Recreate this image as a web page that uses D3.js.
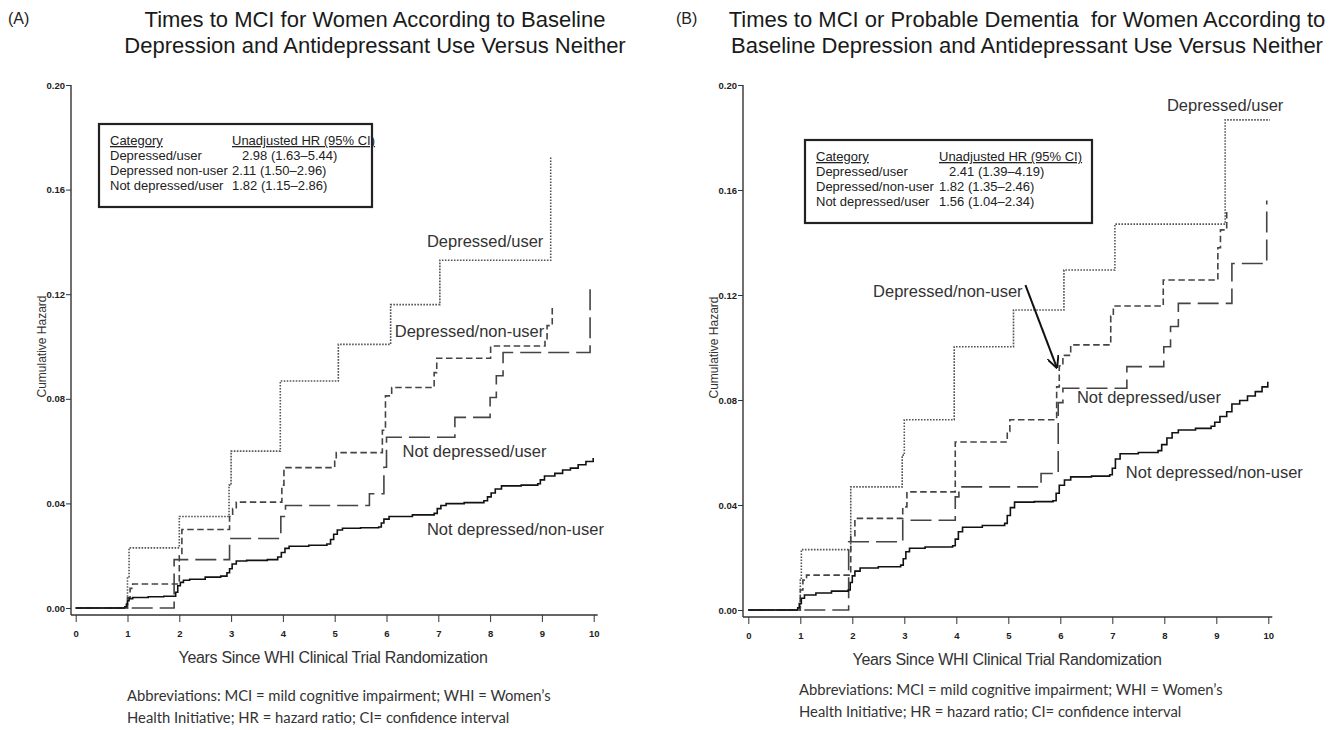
<!DOCTYPE html>
<html>
<head>
<meta charset="utf-8">
<script src="https://cdn.jsdelivr.net/npm/d3@7"></script>
<style>
  body { margin: 0; background: #fff; }
  svg text { font-family: 'Liberation Sans', Arial, sans-serif; }
</style>
</head>
<body>
<div id="chart"></div>
<script>
// ---- data ----
const years = [0, 1, 2, 3, 4, 5, 6, 7, 8, 9, 10];
const hazardTicks = [0, 0.04, 0.08, 0.12, 0.16, 0.20];

const titleA = ['Times to MCI for Women According to Baseline',
                'Depression and Antidepressant Use Versus Neither'];
const titleB = ['Times to MCI or Probable Dementia  for Women According to',
                'Baseline Depression and Antidepressant Use Versus Neither'];

const legendCatsA = ['Depressed/user', 'Depressed non-user', 'Not depressed/user'];
const legendHrA = ['2.98 (1.63\u20135.44)', '2.11 (1.50\u20132.96)', '1.82 (1.15\u20132.86)'];
const legendCatsB = ['Depressed/user', 'Depressed/non-user', 'Not depressed/user'];
const legendHrB = ['2.41 (1.39\u20134.19)', '1.82 (1.35\u20132.46)', '1.56 (1.04\u20132.34)'];

const abbrevLines = ['Abbreviations: MCI = mild cognitive impairment; WHI = Women\u2019s',
                     'Health Initiative; HR = hazard ratio; CI= confidence interval'];

// panel A step curves [year, cumulative hazard]
const aDepUser = [[0,0],[1.0,0.012],[1.03,0.023],[2.0,0.035],[2.96,0.047],[3.0,0.060],
  [3.95,0.0868],[5.07,0.1008],[6.08,0.116],[7.03,0.133],[9.17,0.1726]];
const aDepNonUser = [[0,0],[1.0,0.004],[1.05,0.0075],[1.1,0.0092],[2.0,0.020],[2.05,0.030],
  [2.97,0.035],[3.03,0.038],[3.1,0.0405],[3.98,0.047],[4.02,0.0537],[5.0,0.057],[5.03,0.0594],
  [5.92,0.068],[5.98,0.0811],[6.1,0.0843],[6.92,0.09],[6.97,0.0955],[8.01,0.1002],[9.06,0.1023],
  [9.1,0.108],[9.2,0.1148]];
const aNotDepUser = [[0,0],[1.9,0.0185],[2.97,0.0266],[3.96,0.035],[4.05,0.0392],[5.67,0.0437],
  [5.95,0.0538],[6.0,0.0653],[7.32,0.0729],[8.0,0.0805],[8.12,0.0888],[8.25,0.0977],[9.93,0.122]];
const aNotDepNonUser = [[0,0],[0.95,0.0005],[0.98,0.0015],[1.0,0.0028],[1.03,0.0036],[1.1,0.004],
  [1.4,0.0043],[1.7,0.0045],[1.93,0.006],[1.97,0.0085],[2.02,0.0098],[2.08,0.0106],[2.2,0.011],
  [2.5,0.0118],[2.8,0.0122],[2.92,0.0135],[2.97,0.015],[3.02,0.0168],[3.1,0.018],[3.3,0.0182],
  [3.7,0.0185],[3.9,0.0195],[3.97,0.0212],[4.04,0.0228],[4.12,0.0236],[4.5,0.024],[4.85,0.0245],
  [4.92,0.0262],[4.98,0.0282],[5.05,0.0298],[5.15,0.0305],[5.5,0.0307],[5.85,0.031],[5.9,0.0325],
  [5.95,0.034],[6.05,0.035],[6.5,0.0356],[6.92,0.0362],[6.98,0.038],[7.05,0.0392],[7.15,0.0399],
  [7.5,0.0403],[7.88,0.041],[7.95,0.0425],[8.02,0.044],[8.1,0.0455],[8.22,0.0467],[8.6,0.047],
  [8.92,0.0475],[8.97,0.049],[9.05,0.0505],[9.25,0.0515],[9.4,0.0528],[9.55,0.0535],[9.7,0.0548],
  [9.85,0.056],[9.99,0.0574]];

// panel B step curves
const bDepUser = [[0,0],[1.0,0.0114],[1.02,0.023],[1.97,0.0469],[2.96,0.059],[3.0,0.0725],
  [3.96,0.1003],[5.1,0.1143],[6.07,0.1295],[7.05,0.147],[9.17,0.1867],[10.03,0.1867]];
const bDepNonUser = [[0,0],[1.0,0.0076],[1.05,0.0114],[1.12,0.0133],[1.97,0.0279],[2.05,0.0349],
  [2.97,0.0393],[3.05,0.045],[3.98,0.064],[4.98,0.068],[5.03,0.0725],[5.93,0.085],[5.98,0.093],
  [6.05,0.097],[6.2,0.101],[6.97,0.112],[7.02,0.1158],[7.98,0.1257],[9.03,0.138],[9.08,0.1448],
  [9.2,0.1518]];
const bNotDepUser = [[0,0],[1.93,0.026],[2.97,0.0342],[3.98,0.0431],[4.05,0.0469],[5.63,0.052],
  [5.96,0.079],[6.05,0.0845],[7.28,0.0927],[7.99,0.1003],[8.12,0.108],[8.27,0.1168],[9.3,0.132],
  [9.97,0.156]];
const bNotDepNonUser = [[0,0],[0.95,0.0008],[0.98,0.0025],[1.02,0.0045],[1.08,0.0057],[1.3,0.0065],
  [1.6,0.0072],[1.92,0.0076],[1.96,0.0105],[2.0,0.013],[2.05,0.0148],[2.15,0.016],[2.5,0.0165],
  [2.93,0.0171],[2.98,0.0195],[3.03,0.0222],[3.1,0.0235],[3.4,0.024],[3.93,0.0245],[3.98,0.027],
  [4.04,0.0298],[4.12,0.0315],[4.5,0.0322],[4.93,0.033],[4.98,0.036],[5.04,0.039],[5.12,0.0411],
  [5.5,0.0413],[5.86,0.0416],[5.92,0.0445],[5.98,0.0475],[6.08,0.0495],[6.2,0.0507],[6.6,0.051],
  [6.95,0.0515],[7.0,0.054],[7.06,0.0575],[7.15,0.0595],[7.5,0.06],[7.88,0.0607],[7.95,0.063],
  [8.05,0.0655],[8.15,0.0675],[8.27,0.0686],[8.6,0.0692],[8.9,0.07],[8.97,0.0715],[9.07,0.0737],
  [9.2,0.0755],[9.3,0.0785],[9.45,0.0798],[9.6,0.0815],[9.75,0.0832],[9.88,0.085],[9.99,0.087]];

// curve labels, anchored in data units [year, hazard]
const labelsA = [['Depressed/user', 6.78, 0.1382], ['Depressed/non-user', 6.16, 0.1037],
                 ['Not depressed/user', 6.31, 0.0576], ['Not depressed/non-user', 6.78, 0.0279]];
const labelsB = [['Depressed/user', 8.05, 0.1902], ['Depressed/non-user', 2.40, 0.1194],
                 ['Not depressed/user', 6.32, 0.0788], ['Not depressed/non-user', 7.26, 0.0502]];
const arrowB = [[5.33, 0.1238], [5.93, 0.0925]];

// ---- drawing ----
const W = 1335, H = 730;
const svg = d3.select('#chart').append('svg')
  .attr('width', W).attr('height', H)
  .style('background', '#fff');

svg.append('defs').append('marker')
  .attr('id', 'arrowhead')
  .attr('viewBox', '0 0 10 10')
  .attr('refX', 9).attr('refY', 5)
  .attr('markerWidth', 6).attr('markerHeight', 6)
  .attr('orient', 'auto')
  .append('path')
  .attr('d', 'M0,0 L10,5 L0,10')
  .attr('fill', 'none').attr('stroke', '#111').attr('stroke-width', 1.6);

const styles = {
  dotted: { dash: '1.6,1.4', color: '#555' },
  short:  { dash: '6.5,3.5', color: '#444' },
  long:   { dash: '21,7', color: '#444' },
  solid:  { dash: null, color: '#111' }
};

function drawPanel(p) {
  const x = d3.scaleLinear().domain([0, 10]).range(p.xRange);
  const y = d3.scaleLinear().domain([0, 0.20]).range(p.yRange);
  const g = svg.append('g');

  // panel tag and title
  g.append('text').attr('x', p.tagX).attr('y', 24)
    .style('font-size', '16px').attr('fill', '#222').text(p.tag);
  g.selectAll('.title').data(p.title).enter().append('text')
    .attr('x', p.titleX).attr('y', (d, i) => 27 + i * 26)
    .attr('text-anchor', 'middle')
    .style('font-size', '22px')
    .style('white-space', 'pre')
    .attr('fill', '#1a1a1a')
    .text(d => d);

  // axes
  const yAxis = d3.axisLeft(y).tickValues(hazardTicks).tickFormat(d3.format('.2f'))
    .tickSize(5).tickSizeOuter(0);
  const yg = g.append('g').attr('transform', `translate(${p.yAxisX},0)`).call(yAxis);
  yg.select('.domain').remove();
  yg.selectAll('.tick line').attr('x2', -5).attr('stroke', '#333');
  yg.selectAll('.tick text').attr('x', -6);

  const xAxis = d3.axisBottom(x).tickValues(years).tickFormat(d3.format('d'))
    .tickSize(7).tickSizeOuter(0);
  const xg = g.append('g').attr('transform', `translate(0,${p.xAxisY})`).call(xAxis);
  xg.select('.domain').remove();
  xg.selectAll('.tick line').attr('stroke', '#333');

  [yg, xg].forEach(a => a.selectAll('.tick text')
    .style('font-family', "'Liberation Sans', Arial, sans-serif")
    .style('font-size', '9.5px').style('font-weight', 'bold').attr('fill', '#222'));
  xg.selectAll('.tick text').attr('dy', '1.3em');

  g.append('line').attr('x1', p.yAxisX).attr('x2', p.yAxisX)
    .attr('y1', y(0.20)).attr('y2', p.xAxisY).attr('stroke', '#333').attr('stroke-width', 1.4);
  g.append('line').attr('x1', p.yAxisX).attr('x2', x(10) + 4)
    .attr('y1', p.xAxisY).attr('y2', p.xAxisY).attr('stroke', '#333').attr('stroke-width', 1.4);

  g.append('text')
    .attr('transform', `translate(${p.yAxisX - 25},${y(0.10)}) rotate(-90)`)
    .attr('text-anchor', 'middle').style('font-size', '12px').attr('fill', '#333')
    .text('Cumulative Hazard');
  g.append('text').attr('x', p.xTitleX).attr('y', p.xAxisY + 48)
    .attr('text-anchor', 'middle').style('font-size', '16px').style('letter-spacing', '-0.3px')
    .attr('fill', '#333').text('Years Since WHI Clinical Trial Randomization');

  g.selectAll('.abbr').data(abbrevLines).enter().append('text')
    .attr('x', p.abbrX).attr('y', (d, i) => p.abbrY + i * 22)
    .style('font-family', "Lato, 'Open Sans', sans-serif").style('font-size', '14.8px')
    .attr('fill', '#333').text(d => d);

  // curves
  const line = d3.line().x(d => x(d[0])).y(d => y(d[1])).curve(d3.curveStepAfter);
  p.series.forEach(s => {
    const st = styles[s.style];
    g.append('path').datum(s.data)
      .attr('d', line)
      .attr('fill', 'none')
      .attr('stroke', st.color)
      .attr('stroke-width', 1.6)
      .attr('stroke-dasharray', st.dash);
  });

  // curve labels
  g.selectAll('.clabel').data(p.labels).enter().append('text')
    .attr('x', d => x(d[1])).attr('y', d => y(d[2]))
    .style('font-size', '16.5px').attr('fill', '#333')
    .text(d => d[0]);

  if (p.arrow) {
    g.append('line')
      .attr('x1', x(p.arrow[0][0])).attr('y1', y(p.arrow[0][1]))
      .attr('x2', x(p.arrow[1][0])).attr('y2', y(p.arrow[1][1]))
      .attr('stroke', '#111').attr('stroke-width', 2)
      .attr('marker-end', 'url(#arrowhead)');
  }

  // legend box
  const lg = g.append('g');
  lg.append('rect').attr('x', p.legend.x).attr('y', p.legend.y)
    .attr('width', p.legend.w).attr('height', p.legend.h)
    .attr('fill', '#fff').attr('stroke', '#222').attr('stroke-width', 2.2);
  const rowY = i => p.legend.y + 21 + i * 15;
  lg.append('text').attr('x', p.legend.x + 11).attr('y', rowY(0))
    .style('font-size', '13px').style('text-decoration', 'underline').attr('fill', '#222')
    .text('Category');
  lg.append('text').attr('x', p.legend.col2).attr('y', rowY(0))
    .style('font-size', '13px').style('text-decoration', 'underline').attr('fill', '#222')
    .text('Unadjusted HR (95% CI)');
  p.legend.cats.forEach((c, i) => {
    lg.append('text').attr('x', p.legend.x + 11).attr('y', rowY(i + 1))
      .style('font-size', '13px').attr('fill', '#222').text(c);
    lg.append('text').attr('x', p.legend.col2 + (i === 0 ? 10 : 0)).attr('y', rowY(i + 1))
      .style('font-size', '13px').attr('fill', '#222').text(p.legend.hr[i]);
  });
}

drawPanel({
  tag: '(A)', tagX: 8, title: titleA, titleX: 375,
  xRange: [75.7, 593.7], yRange: [608, 85], yAxisX: 71, xAxisY: 615,
  xTitleX: 333, abbrX: 127, abbrY: 701,
  series: [
    { data: aDepUser, style: 'dotted' },
    { data: aDepNonUser, style: 'short' },
    { data: aNotDepUser, style: 'long' },
    { data: aNotDepNonUser, style: 'solid' }
  ],
  labels: labelsA,
  legend: { x: 99, y: 124, w: 273, h: 83, col2: 232, cats: legendCatsA, hr: legendHrA }
});

drawPanel({
  tag: '(B)', tagX: 676, title: titleB, titleX: 1027,
  xRange: [748.3, 1268.3], yRange: [610, 85], yAxisX: 743, xAxisY: 617,
  xTitleX: 1007, abbrX: 799, abbrY: 695,
  series: [
    { data: bDepUser, style: 'dotted' },
    { data: bDepNonUser, style: 'short' },
    { data: bNotDepUser, style: 'long' },
    { data: bNotDepNonUser, style: 'solid' }
  ],
  labels: labelsB, arrow: arrowB,
  legend: { x: 805, y: 140, w: 287, h: 83, col2: 939, cats: legendCatsB, hr: legendHrB }
});
</script>
</body>
</html>
